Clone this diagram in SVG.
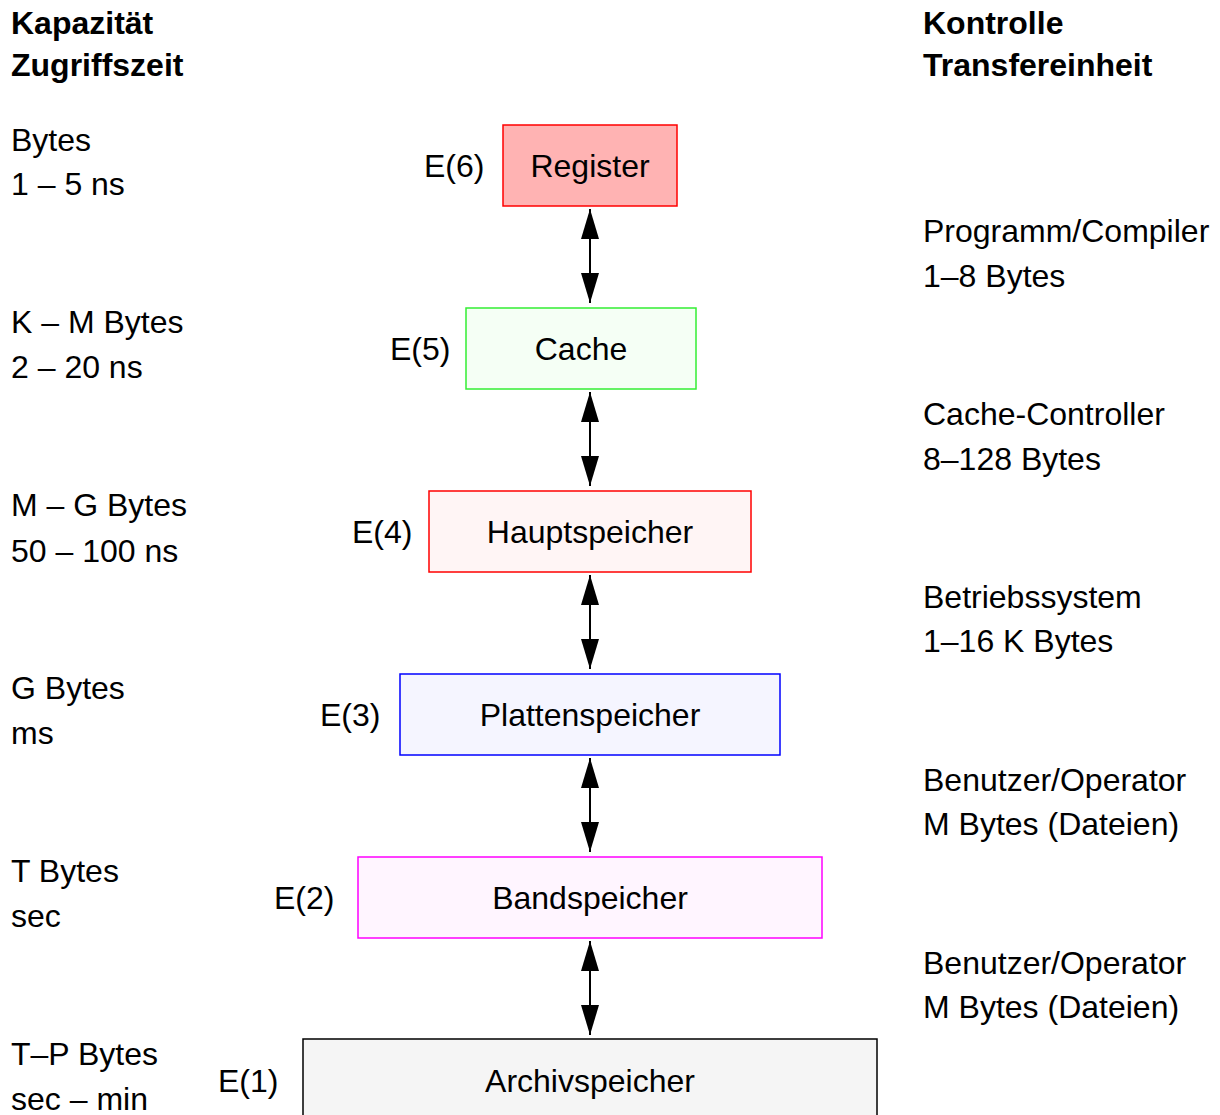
<svg xmlns="http://www.w3.org/2000/svg" width="1220" height="1115" viewBox="0 0 1220 1115">
<style>
text{font-family:"Liberation Sans",Arial,sans-serif;font-size:32px;fill:#000}
.h{font-weight:bold}
.c{text-anchor:middle}
rect{stroke-width:1.5}
.conn line{stroke:#000;stroke-width:2;marker-start:url(#ah);marker-end:url(#ah)}
</style>
<defs>
<marker id="ah" viewBox="0 0 30 18" markerWidth="30" markerHeight="18" refX="30" refY="9" orient="auto-start-reverse" markerUnits="userSpaceOnUse">
<path d="M0,0 L30,9 L0,18 z" fill="#000"/>
</marker>
</defs>
<rect width="1220" height="1115" fill="#fff"/>
<g id="left-column">
<text class="h" x="11" y="34">Kapazität</text>
<text class="h" x="11" y="76">Zugriffszeit</text>
<text x="11" y="151">Bytes</text>
<text x="11" y="195">1 – 5 ns</text>
<text x="11" y="333">K – M Bytes</text>
<text x="11" y="378">2 – 20 ns</text>
<text x="11" y="516">M – G Bytes</text>
<text x="11" y="562">50 – 100 ns</text>
<text x="11" y="699">G Bytes</text>
<text x="11" y="744">ms</text>
<text x="11" y="882">T Bytes</text>
<text x="11" y="927">sec</text>
<text x="11" y="1065">T–P Bytes</text>
<text x="11" y="1110">sec – min</text>
</g>
<g id="right-column">
<text class="h" x="923" y="34">Kontrolle</text>
<text class="h" x="923" y="76">Transfereinheit</text>
<text x="923" y="242">Programm/Compiler</text>
<text x="923" y="287">1–8 Bytes</text>
<text x="923" y="425">Cache-Controller</text>
<text x="923" y="470">8–128 Bytes</text>
<text x="923" y="608">Betriebssystem</text>
<text x="923" y="652">1–16 K Bytes</text>
<text x="923" y="791">Benutzer/Operator</text>
<text x="923" y="835">M Bytes (Dateien)</text>
<text x="923" y="974">Benutzer/Operator</text>
<text x="923" y="1018">M Bytes (Dateien)</text>
</g>
<g id="register">
<rect x="503" y="125" width="174" height="81" fill="#ffb3b3" stroke="#ff0000"/>
<text class="c" x="590" y="177">Register</text>
<text x="424" y="177">E(6)</text>
</g>
<g id="cache">
<rect x="466" y="308" width="230" height="81" fill="#f5fff5" stroke="#33ee33"/>
<text class="c" x="581" y="360">Cache</text>
<text x="390" y="360">E(5)</text>
</g>
<g id="hauptspeicher">
<rect x="429" y="491" width="322" height="81" fill="#fff5f5" stroke="#ff0000"/>
<text class="c" x="590" y="543">Hauptspeicher</text>
<text x="352" y="543">E(4)</text>
</g>
<g id="plattenspeicher">
<rect x="400" y="674" width="380" height="81" fill="#f5f5ff" stroke="#0000ff"/>
<text class="c" x="590" y="726">Plattenspeicher</text>
<text x="320" y="726">E(3)</text>
</g>
<g id="bandspeicher">
<rect x="358" y="857" width="464" height="81" fill="#fff5ff" stroke="#ff00ff"/>
<text class="c" x="590" y="909">Bandspeicher</text>
<text x="274" y="909">E(2)</text>
</g>
<g id="archivspeicher">
<rect x="303" y="1039" width="574" height="90" fill="#f5f5f5" stroke="#000000"/>
<text class="c" x="590" y="1092">Archivspeicher</text>
<text x="218" y="1092">E(1)</text>
</g>
<g id="connectors" class="conn">
<line x1="590" y1="209" x2="590" y2="303"/>
<line x1="590" y1="392" x2="590" y2="486"/>
<line x1="590" y1="575" x2="590" y2="669"/>
<line x1="590" y1="758" x2="590" y2="852"/>
<line x1="590" y1="941" x2="590" y2="1035"/>
</g>
</svg>
